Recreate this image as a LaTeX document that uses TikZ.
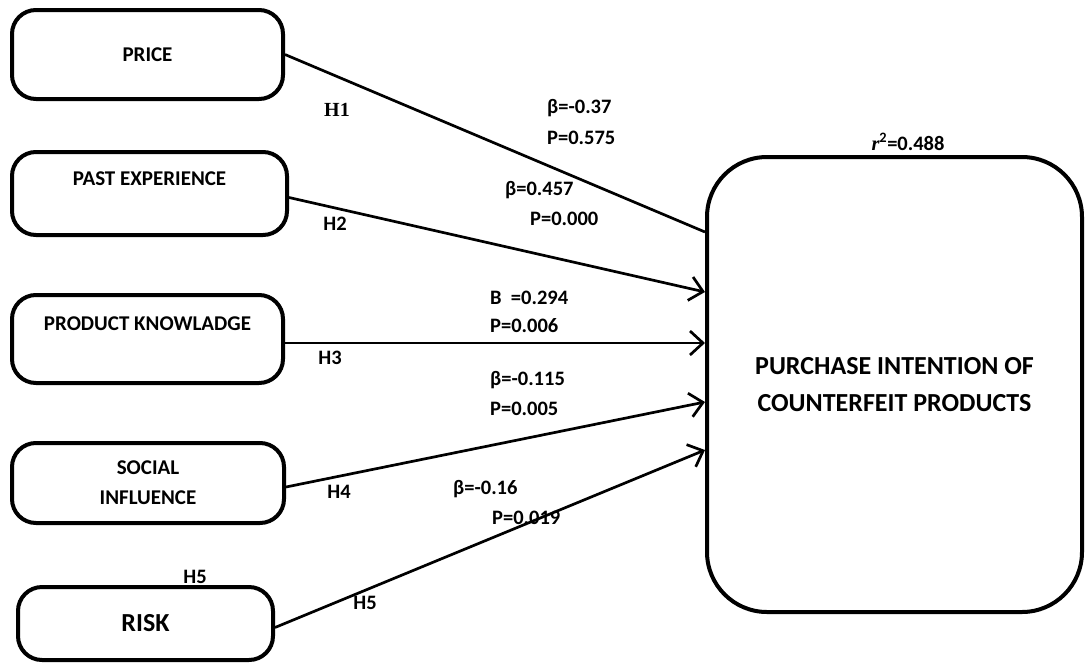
\documentclass[tikz,border=0pt]{standalone}
\usepackage{fontspec}
\setmainfont{Carlito}
\newfontfamily\timesfont{Liberation Serif}
\usetikzlibrary{arrows.meta}

\begin{document}
\begin{tikzpicture}[x=1pt,y=-1pt,
  box/.style={draw,line width=4pt,rounded corners=24pt,align=center,inner sep=0pt,font=\fontsize{21}{30}\selectfont\bfseries},
  lab/.style={anchor=mid west,inner sep=0pt,font=\fontsize{20.5}{25}\selectfont\bfseries},
  hyp/.style={inner sep=0pt,font=\fontsize{20.5}{25}\selectfont\bfseries},
  link/.style={line width=2.7pt},
  arr/.style={link,-{Straight Barb[length=13pt,width=24pt,line width=2.7pt]}}]
\useasboundingbox (0,0) rectangle (1085,662);

% constructs
\node[box,minimum width=271pt,minimum height=89pt] (price) at (147.5,54.5) {PRICE};
\node[box,minimum width=275pt,minimum height=83pt] (past) at (149.5,193.5) {PAST EXPERIENCE\\\mbox{}};
\node[box,minimum width=271pt,minimum height=88pt] (know) at (147.5,339) {PRODUCT KNOWLADGE\\\mbox{}};
\node[box,minimum width=272pt,minimum height=80pt] (social) at (148,483) {SOCIAL\\INFLUENCE};
\node[box,minimum width=255pt,minimum height=73pt,font=\fontsize{26}{30}\selectfont\bfseries] (risk) at (145.5,623.5) {RISK};
\node[box,minimum width=375pt,minimum height=455pt,rounded corners=60pt,font=\fontsize{26}{37}\selectfont\bfseries] (pi) at (894.5,384.5) {PURCHASE INTENTION OF\\COUNTERFEIT PRODUCTS};

\coordinate (in1) at (pi.west |- 0,232);
\coordinate (in2) at (pi.west |- 0,292);
\coordinate (in3) at (pi.west |- 0,343);
\coordinate (in4) at (pi.west |- 0,402);
\coordinate (in5) at (pi.west |- 0,450);

% paths
\draw[link] (price.east) -- (in1);
\draw[arr] ([yshift=-4pt]past.east) -- (in2);
\draw[arr] ([yshift=-4pt]know.east) -- (in3);
\draw[arr] ([yshift=-4pt]social.east) -- (in4);
\draw[arr] ([yshift=-4pt]risk.east) -- (in5);

% hypotheses
\path (337,110) node[hyp,font=\fontsize{20}{24}\selectfont\bfseries\timesfont] {H1};
\path (335,224) node[hyp] {H2};
\path (330,358) node[hyp] {H3};
\path (339,492) node[hyp] {H4};
\path (195,577) node[hyp] {H5};
\path (365,603) node[hyp] {H5};

% estimates
\path (547,111) node[lab] {β=-0.37};
\path (547,142) node[lab] {P=0.575};
\path (505,193) node[lab] {β=0.457};
\path (530,223) node[lab] {P=0.000};
\path (490,302) node[lab] {B\ \ =0.294};
\path (490,330) node[lab] {P=0.006};
\path (490,383) node[lab] {β=-0.115};
\path (490,413) node[lab] {P=0.005};
\path (453,492) node[lab] {β=-0.16};
\path (492,522) node[lab] {P=0.019};
\path (908,142) node[hyp] {{\timesfont\itshape r}\textsuperscript{2}=0.488};
\end{tikzpicture}
\end{document}
